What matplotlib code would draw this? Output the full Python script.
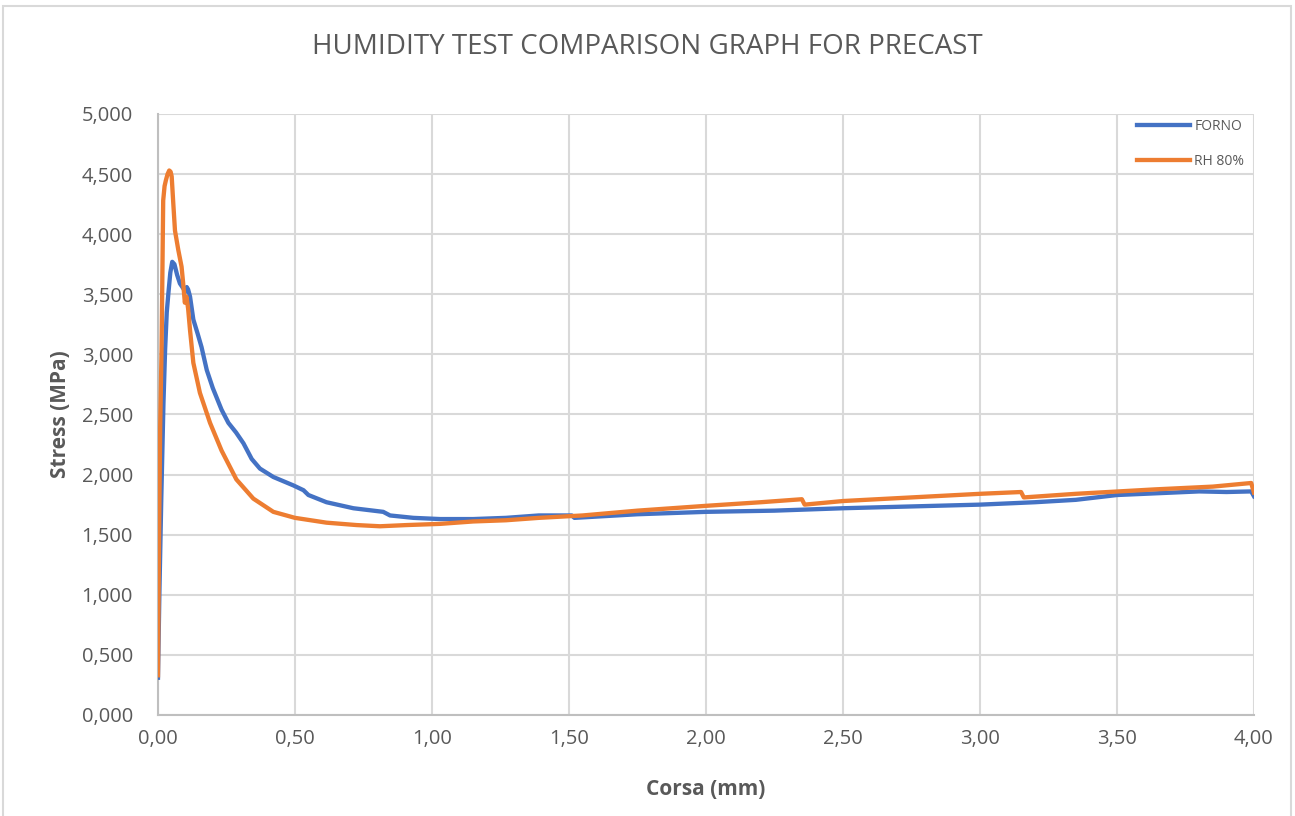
import matplotlib
matplotlib.use("Agg")
import matplotlib.pyplot as plt
from matplotlib.ticker import FuncFormatter, MultipleLocator
from matplotlib.patches import Rectangle

# FORNO (oven dried) curve: corsa [mm] vs stress [MPa]
forno_x = [0.000, 0.005, 0.012, 0.020, 0.026, 0.032, 0.038, 0.045, 0.052, 0.060,
           0.070, 0.080, 0.092, 0.100, 0.105, 0.110, 0.117, 0.129, 0.145, 0.159,
           0.178, 0.200, 0.232, 0.257, 0.285, 0.312, 0.342, 0.372, 0.421, 0.494,
           0.531, 0.549, 0.615, 0.713, 0.822, 0.847, 0.932, 1.030, 1.150, 1.270,
           1.390, 1.510, 1.520, 1.750, 2.000, 2.250, 2.500, 2.750, 3.000, 3.200,
           3.350, 3.500, 3.650, 3.800, 3.900, 3.990, 4.000]
forno_y = [0.31, 1.00, 1.80, 2.60, 3.04, 3.35, 3.51, 3.68, 3.77, 3.75,
           3.66, 3.59, 3.55, 3.52, 3.56, 3.54, 3.48, 3.29, 3.17, 3.06,
           2.87, 2.72, 2.54, 2.43, 2.35, 2.26, 2.13, 2.05, 1.98, 1.91,
           1.87, 1.83, 1.77, 1.72, 1.69, 1.66, 1.64, 1.63, 1.63, 1.64,
           1.66, 1.66, 1.64, 1.67, 1.69, 1.70, 1.72, 1.735, 1.75, 1.77,
           1.79, 1.83, 1.845, 1.86, 1.855, 1.86, 1.82]

# RH 80% curve
rh_x = [0.000, 0.004, 0.008, 0.013, 0.019, 0.024, 0.029, 0.035, 0.041, 0.046,
        0.050, 0.056, 0.062, 0.074, 0.086, 0.092, 0.098, 0.104, 0.110, 0.117,
        0.129, 0.153, 0.190, 0.232, 0.286, 0.348, 0.421, 0.500, 0.615, 0.725,
        0.810, 0.907, 1.030, 1.150, 1.270, 1.390, 1.550, 1.750, 2.000, 2.200,
        2.350, 2.360, 2.500, 2.750, 3.000, 3.150, 3.160, 3.350, 3.640, 3.850,
        3.990, 4.000]
rh_y = [0.33, 1.50, 2.40, 3.04, 4.28, 4.40, 4.45, 4.50, 4.53, 4.52,
        4.48, 4.25, 4.03, 3.87, 3.73, 3.59, 3.43, 3.48, 3.38, 3.20,
        2.93, 2.68, 2.43, 2.20, 1.96, 1.80, 1.69, 1.64, 1.60, 1.58,
        1.57, 1.58, 1.59, 1.61, 1.62, 1.64, 1.66, 1.70, 1.74, 1.77,
        1.795, 1.75, 1.78, 1.81, 1.84, 1.855, 1.81, 1.84, 1.877, 1.90,
        1.93, 1.85]

labels = ["FORNO", "RH 80%"]
colors = ["#4472C4", "#ED7D31"]
text_col = "#595959"

plt.rcParams["font.family"] = ["Open Sans", "DejaVu Sans"]

fig = plt.figure(figsize=(12.95, 8.16), dpi=100)
ax = fig.add_axes([0.122, 0.1238, 0.8463, 0.7365])

# chart border
fig.patches.append(Rectangle((3 / 1295, -0.01), 1288 / 1295, 1 - 6 / 816 + 0.01,
                             transform=fig.transFigure, fill=False,
                             edgecolor="#d9d9d9", linewidth=1.5))

ax.plot(forno_x, forno_y, color=colors[0], lw=3.1, label=labels[0],
        solid_joinstyle="round", zorder=3)
ax.plot(rh_x, rh_y, color=colors[1], lw=3.1, label=labels[1],
        solid_joinstyle="round", zorder=4)

ax.set_xlim(0, 4)
ax.set_ylim(0, 5)
ax.xaxis.set_major_locator(MultipleLocator(0.5))
ax.yaxis.set_major_locator(MultipleLocator(0.5))
ax.xaxis.set_major_formatter(FuncFormatter(lambda v, p: f"{v:.2f}".replace(".", ",")))
ax.yaxis.set_major_formatter(FuncFormatter(lambda v, p: f"{v:.3f}".replace(".", ",")))

ax.grid(True, color="#d9d9d9", lw=1.5)
ax.set_axisbelow(True)
for s in ["top", "right"]:
    ax.spines[s].set_visible(False)
for s in ["left", "bottom"]:
    ax.spines[s].set_color("#bfbfbf")
    ax.spines[s].set_linewidth(1.5)

ax.tick_params(length=0, labelsize=14.5, labelcolor=text_col)
ax.tick_params(axis="y", pad=18)
ax.tick_params(axis="x", pad=10)

ax.set_xlabel("Corsa (mm)", fontsize=15, fontweight="bold", color=text_col, labelpad=22)
ax.set_ylabel("Stress (MPa)", fontsize=15, fontweight="bold", color=text_col, labelpad=8)
fig.suptitle("HUMIDITY TEST COMPARISON GRAPH FOR PRECAST", y=1 - 47 / 816, va="center",
             fontsize=20, color=text_col)

ax.legend(loc="upper right", bbox_to_anchor=(1.0, 1.008), frameon=False,
          fontsize=10, labelcolor=text_col, handlelength=3.8, handletextpad=0.3,
          labelspacing=1.45, borderaxespad=0.3)

fig.savefig("out.png", dpi=100)
